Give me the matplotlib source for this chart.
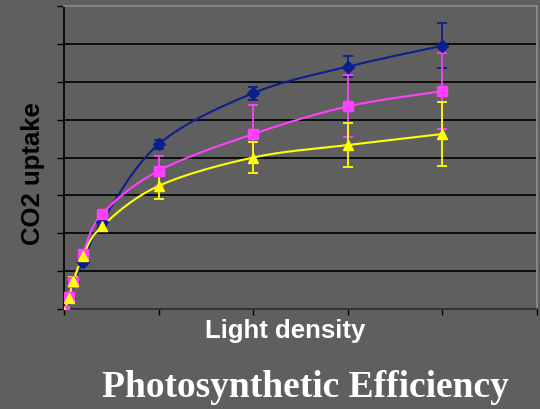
import numpy as np
import matplotlib.pyplot as plt

light = [0, 25, 50, 100, 200, 500, 1000, 1500, 2000]

blue = [-0.05, 0.30, 0.70, 1.25, 2.30, 4.35, 5.70, 6.40, 6.95]
blue_err = [0.05, 0.05, 0.08, 0.10, 0.12, 0.12, 0.17, 0.28, 0.60]

pink = [-0.05, 0.32, 0.72, 1.45, 2.50, 3.65, 4.62, 5.35, 5.75]
pink_err = [0.05, 0.08, 0.10, 0.12, 0.10, 0.40, 0.77, 0.82, 1.00]

yellow = [-0.08, 0.30, 0.74, 1.40, 2.18, 3.25, 4.00, 4.33, 4.62]
yellow_err = [0.05, 0.08, 0.10, 0.15, 0.12, 0.35, 0.40, 0.57, 0.85]

bg = '#5f5f5f'


def smooth(x, y, n=30):
    # excel-like smoothed line: bezier with catmull-rom control points
    x = np.asarray(x, float); y = np.asarray(y, float)
    px = np.concatenate([[x[0]], x, [x[-1]]])
    py = np.concatenate([[y[0]], y, [y[-1]]])
    xs, ys = [], []
    t = np.linspace(0, 1, n)
    for i in range(1, len(px) - 2):
        p1 = np.array([px[i], py[i]]); p2 = np.array([px[i + 1], py[i + 1]])
        p0 = np.array([px[i - 1], py[i - 1]]); p3 = np.array([px[i + 2], py[i + 2]])
        c1 = p1 + (p2 - p0) / 6
        c2 = p2 - (p3 - p1) / 6
        b = ((1 - t) ** 3)[:, None] * p1 + (3 * (1 - t) ** 2 * t)[:, None] * c1 \
            + (3 * (1 - t) * t ** 2)[:, None] * c2 + (t ** 3)[:, None] * p2
        xs.extend(b[:, 0]); ys.extend(b[:, 1])
    return xs, ys


fig = plt.figure(figsize=(5.4, 4.1), dpi=100, facecolor=bg)
ax = fig.add_axes([64 / 540, 100 / 410, 473 / 540, 303 / 410], facecolor=bg)

series = [(blue, blue_err, '#0d1e8e', 'D', 6),
          (pink, pink_err, '#ff40ff', 's', 6.5),
          (yellow, yellow_err, '#ffff00', '^', 7.5)]
for vals, err, col, mk, ms in series:
    sx, sy = smooth(light, vals)
    ax.plot(sx, sy, color=col, lw=1.5, zorder=3)
    ax.errorbar(light, vals, yerr=err, fmt=mk, color=col, ms=ms,
                capsize=3.5, elinewidth=1.3, capthick=1.3, zorder=4)

ax.set_xlim(0, 2500)
ax.set_ylim(0, 8)
ax.set_xticks(np.arange(0, 2501, 500))
ax.set_yticks(np.arange(0, 9, 1))
ax.set_xticklabels([]); ax.set_yticklabels([])
ax.yaxis.grid(True, color='black', lw=1.2)
ax.set_axisbelow(True)
ax.tick_params(axis='y', direction='out', length=5, color='black', width=1)
ax.tick_params(axis='x', direction='out', length=4, color='black', width=1)
ax.spines['left'].set_color('black')
ax.spines['bottom'].set_color('#333333')
ax.spines['top'].set_color('#8a8a8a')
ax.spines['right'].set_color('#8a8a8a')
for s in ax.spines.values():
    s.set_linewidth(1.3)

fig.text(33 / 540, 1 - 174 / 410, 'CO2 uptake', fontsize=18.5, fontweight='bold',
         family='Liberation Sans', color='black', rotation=90, ha='center', va='center')
fig.text(285 / 540, 1 - 331 / 410, 'Light density', fontsize=18.5, fontweight='bold',
         family='Liberation Sans', color='white', ha='center', va='center')
fig.text(305 / 540, 1 - 388 / 410, 'Photosynthetic Efficiency', fontsize=27, fontweight='bold',
         family='Liberation Serif', color='white', ha='center', va='center')

fig.savefig('out.png', dpi=100, facecolor=bg)
